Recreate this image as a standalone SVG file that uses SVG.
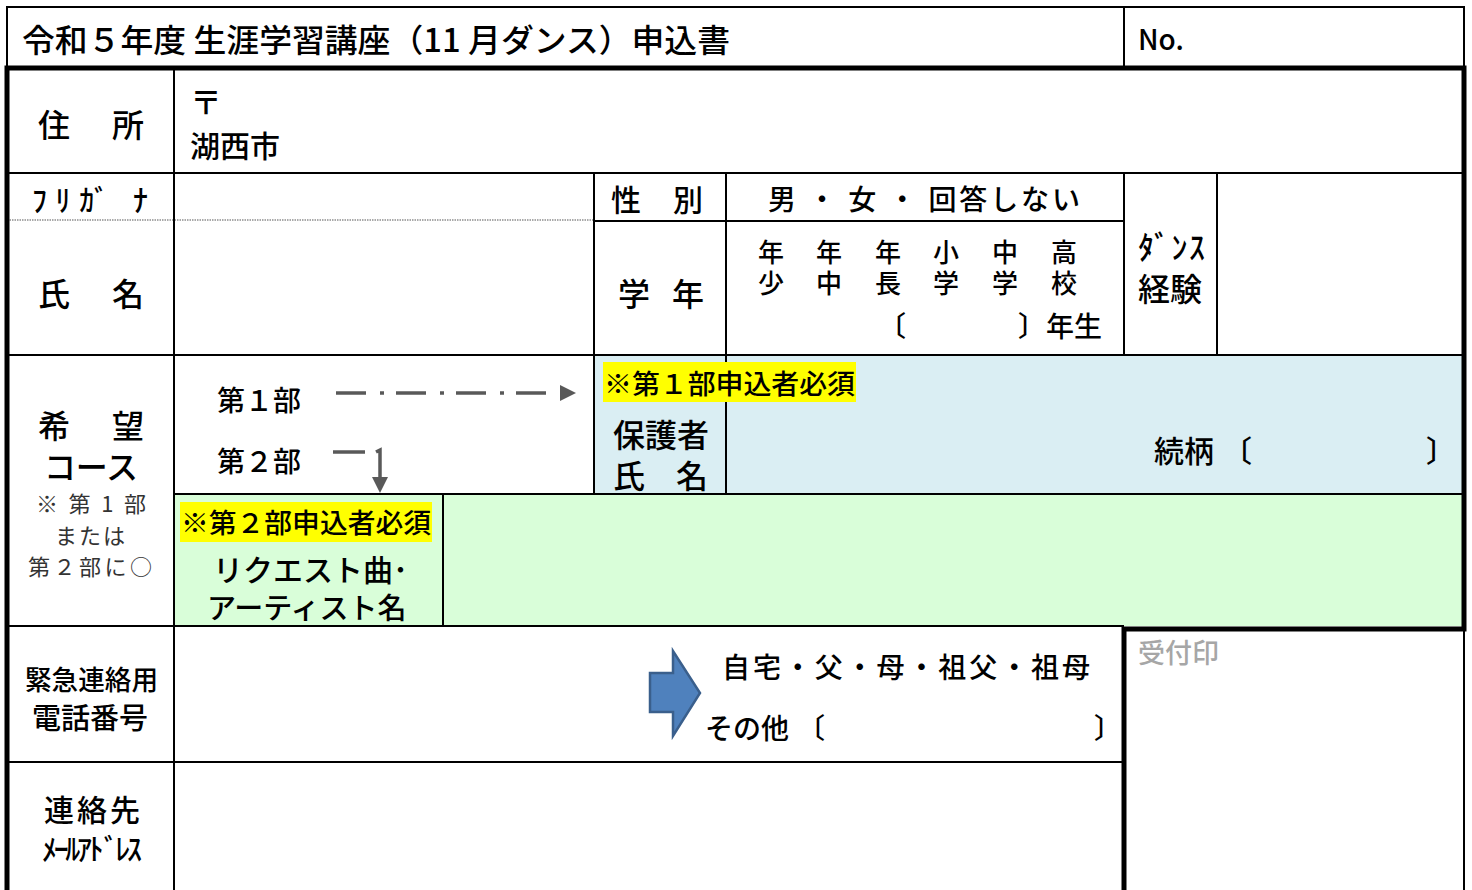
<svg xmlns="http://www.w3.org/2000/svg" width="1472" height="890" viewBox="0 0 1472 890">
<defs>
<style>
text{font-family:"Noto Sans CJK JP","Noto Sans",sans-serif;fill:#000;dominant-baseline:central;font-weight:500}
.t{stroke:#000;stroke-width:2;fill:none}
.k{stroke:#000;stroke-width:5;fill:none}
.note{fill:#333;font-weight:400}
.conn{stroke:#595959;stroke-width:3.5;fill:none}
.hl{fill:#FFFF00}
</style>
<marker id="ah" markerUnits="userSpaceOnUse" markerWidth="17" markerHeight="16" refX="0" refY="8" orient="auto">
<path d="M0,0 L16,8 L0,16 Z" fill="#595959"/>
</marker>
</defs>
<rect width="1472" height="890" fill="#fff"/>

<g id="fills">
<rect x="594" y="355" width="870" height="139" fill="#DAEEF3"/>
<rect x="174" y="494" width="1290" height="132" fill="#D9FED9"/>
</g>

<g id="grid">
<rect class="t" x="7" y="7" width="1457" height="61"/>
<line class="t" x1="1124" y1="7" x2="1124" y2="68"/>
<line class="t" x1="7" y1="173" x2="1464" y2="173"/>
<line x1="7" y1="220" x2="594" y2="220" stroke="#555" stroke-width="1.2" stroke-dasharray="1.5 1"/>
<line class="t" x1="594" y1="221" x2="1124" y2="221"/>
<line class="t" x1="7" y1="355" x2="1464" y2="355"/>
<line class="t" x1="174" y1="68" x2="174" y2="890"/>
<line class="t" x1="594" y1="173" x2="594" y2="494"/>
<line class="t" x1="726" y1="173" x2="726" y2="494"/>
<line class="t" x1="1124" y1="173" x2="1124" y2="355"/>
<line class="t" x1="1217" y1="173" x2="1217" y2="355"/>
<line class="t" x1="174" y1="494" x2="1464" y2="494"/>
<line class="t" x1="443" y1="494" x2="443" y2="626"/>
<line class="t" x1="7" y1="626" x2="1124" y2="626"/>
<line class="t" x1="7" y1="762" x2="1124" y2="762"/>
<line class="t" x1="1464" y1="629" x2="1464" y2="890"/>
<path class="k" d="M7,890 V68 H1464 V629 H1124 V890"/>
</g>

<g id="title">
<text x="22" y="38" font-size="32" font-weight="400" textLength="708" lengthAdjust="spacingAndGlyphs">令和５年度 生涯学習講座（11 月ダンス）申込書</text>
</g>
<g id="number">
<text x="1138" y="38" font-size="28" font-weight="400">No.</text>
</g>

<g id="address">
<text x="38 112" y="123" font-size="32">住所</text>
<text x="190" y="100" font-size="32" font-weight="400">〒</text>
<text x="190" y="144" font-size="30" font-weight="400">湖西市</text>
</g>

<g id="furigana">
<text x="32" y="198" font-size="30" textLength="116" lengthAdjust="spacing">ﾌﾘｶﾞ ﾅ</text>
</g>

<g id="name">
<text x="38 112" y="292" font-size="32">氏名</text>
</g>

<g id="gender">
<text x="611 673" y="198" font-size="30">性別</text>
<text x="768" y="198" font-size="28" font-weight="400" textLength="312" lengthAdjust="spacing">男 ・ 女 ・ 回答しない</text>
</g>

<g id="grade">
<text x="618 672" y="292" font-size="32">学年</text>
<text font-size="26" font-weight="400"><tspan x="758 816 875 933 992 1051" y="250">年年年小中高</tspan><tspan x="758 816 875 933 992 1051" y="281">少中長学学校</tspan><tspan x="878" y="325" font-size="28">〔</tspan><tspan x="1018" y="325" font-size="28">〕年生</tspan></text>
</g>

<g id="dance-experience">
<text font-size="32"><tspan x="1138" y="245" textLength="67" lengthAdjust="spacing">ﾀﾞﾝｽ</tspan><tspan x="1138" y="287">経験</tspan></text>
</g>

<g id="course">
<text x="38 112" y="424" font-size="32">希望</text>
<text x="44" y="465" font-size="32" textLength="94" lengthAdjust="spacing">コース</text>
<text class="note" font-size="22"><tspan x="36" y="502" textLength="110" lengthAdjust="spacing">※ 第 1 部</tspan><tspan x="55" y="534" textLength="70" lengthAdjust="spacing">または</tspan><tspan x="28" y="565" textLength="124" lengthAdjust="spacing">第２部に○</tspan></text>
<text x="217" y="399" font-size="28">第１部</text>
<text x="217" y="460" font-size="28">第２部</text>
</g>

<g id="guardian">
<rect class="hl" x="603" y="362" width="253" height="40"/>
<text x="604" y="382" font-size="27" textLength="251" lengthAdjust="spacingAndGlyphs">※第１部申込者必須</text>
<text font-size="32"><tspan x="613" y="433">保護者</tspan><tspan x="613" y="474">氏</tspan><tspan x="676" y="474">名</tspan></text>
<text y="449" font-size="30"><tspan x="1154">続柄</tspan><tspan x="1222">〔</tspan><tspan x="1426">〕</tspan></text>
</g>

<g id="request">
<rect class="hl" x="180" y="502" width="252" height="40"/>
<text x="181" y="521" font-size="27" textLength="250" lengthAdjust="spacingAndGlyphs">※第２部申込者必須</text>
<text font-size="30"><tspan x="213" y="568">リクエスト曲･</tspan><tspan x="207" y="606" font-size="29">アーティスト名</tspan></text>
</g>

<g id="emergency">
<text font-size="28"><tspan x="25" y="678" font-size="27" textLength="133" lengthAdjust="spacingAndGlyphs">緊急連絡用</tspan><tspan x="32" y="716" font-size="29">電話番号</tspan></text>
<path d="M650,673 H673 V651 L700,693 L673,736 V712 H650 Z" fill="#4F81BD" stroke="#3A5F8C" stroke-width="2.5"/>
<text x="722" y="666" font-size="28" font-weight="400" textLength="368" lengthAdjust="spacing">自宅・父・母・祖父・祖母</text>
<text y="727" font-size="28" font-weight="400"><tspan x="705">その他</tspan><tspan x="797">〔</tspan><tspan x="1094">〕</tspan></text>
</g>

<g id="reception">
<text x="1138" y="651" font-size="27" font-weight="400" style="fill:#A6A6A6">受付印</text>
</g>

<g id="email">
<text font-size="30"><tspan x="44" y="808" textLength="96" lengthAdjust="spacing">連絡先</tspan><tspan x="42" y="847" textLength="100" lengthAdjust="spacing">ﾒｰﾙｱﾄﾞﾚｽ</tspan></text>
</g>

<g id="connectors">
<path class="conn" d="M336,393 H560" stroke-dasharray="30 14 4 12" marker-end="url(#ah)"/>
<path class="conn" d="M333,452 H365"/>
<path class="conn" d="M376,452 L380,450 V477" marker-end="url(#ah)"/>
</g>
</svg>
